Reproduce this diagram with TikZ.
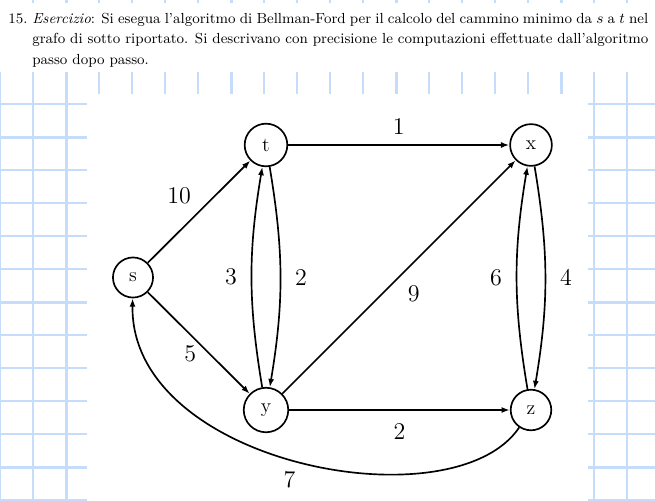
\documentclass[tikz,border=0pt]{standalone}
\usetikzlibrary{arrows.meta}
\definecolor{gridblue}{RGB}{197,221,250}

\begin{document}
\begin{tikzpicture}[x=0.6pt, y=0.6pt,
    vertex/.style={circle, draw=black, line width=1pt, inner sep=6pt, font=\large},
    wlabel/.style={font=\Large},
    edge/.style={-{Latex[length=5pt, width=3.6pt]}, line width=1pt},
    thin grid/.style={gridblue, line width=0.8pt},
    thick grid/.style={gridblue, line width=1.8pt}
]
    \useasboundingbox (0,0) rectangle (655,-501);

    % squared paper at the sides
    \foreach \y in {104,170,203,236,269,335,368,401,434,500} {
        \draw[thin grid] (0,-\y) -- (87,-\y);
        \draw[thin grid] (588,-\y) -- (655,-\y);
    }
    \foreach \y in {137,302,467} {
        \draw[thick grid] (0,-\y) -- (87,-\y);
        \draw[thick grid] (588,-\y) -- (655,-\y);
    }
    \foreach \x in {0,33,594,627}
        \draw[thin grid] (\x,-72) -- (\x,-501);
    \draw[thick grid] (66,-72) -- (66,-501);
    \foreach \x in {99,132,165,198,264,297,330,363,429,462,495,528}
        \draw[thin grid] (\x,-72) -- (\x,-94);
    \foreach \x in {231,396,561}
        \draw[thick grid] (\x,-72) -- (\x,-94);
    % marks of the page above
    \foreach \x in {33,99,132,165,198,264,297,330,363,429,462,495,528,594,627}
        \draw[thin grid] (\x,0) -- (\x,-3);
    \foreach \x in {66,231,396,561}
        \draw[thick grid] (\x,0) -- (\x,-3);

    % exercise text
    \node[anchor=north west, inner sep=0pt, text width=384pt, align=justify] (task) at (8,-12.4)
        {\fontsize{8.75}{12.3}\selectfont\hangindent=14.4pt\hangafter=1\noindent
        \makebox[14.4pt][l]{15.}\textit{Esercizio}: Si esegua
        l'algoritmo di Bellman-Ford per il calcolo del cammino minimo da $s$ a $t$ nel
        grafo di sotto riportato. Si descrivano con precisione le computazioni effettuate
        dall'algoritmo passo dopo passo.\par};

    % graph
    \node[vertex] (s) at (133,-277.5) {s};
    \node[vertex] (t) at (266,-145) {t};
    \node[vertex] (x) at (531,-145) {x};
    \node[vertex] (y) at (266,-410) {y};
    \node[vertex] (z) at (531,-410) {z};

    \draw[edge] (s) -- node[wlabel, above left=1pt] {10} (t);
    \draw[edge] (s) -- node[wlabel, below left, inner sep=1pt] {5} (y);
    \draw[edge] (t) -- node[wlabel, above=2.5pt] {1} (x);
    \draw[edge] (y) -- node[wlabel, below right=1.5pt] {9} (x);
    \draw[edge] (y) -- node[wlabel, below=4pt] {2} (z);
    \draw[edge] (y) to[bend left=9.5] node[wlabel, left=5pt] {3} (t);
    \draw[edge] (t) to[bend left=9.5] node[wlabel, right=5pt] {2} (y);
    \draw[edge] (z) to[bend left=9.5] node[wlabel, left=5pt] {6} (x);
    \draw[edge] (x) to[bend left=9.5] node[wlabel, right=5pt] {4} (z);
    \draw[edge] (z) .. controls +(236:139) and +(269:187) .. node[wlabel, pos=0.52, below=3.75pt] {7} (s);
\end{tikzpicture}
\end{document}
